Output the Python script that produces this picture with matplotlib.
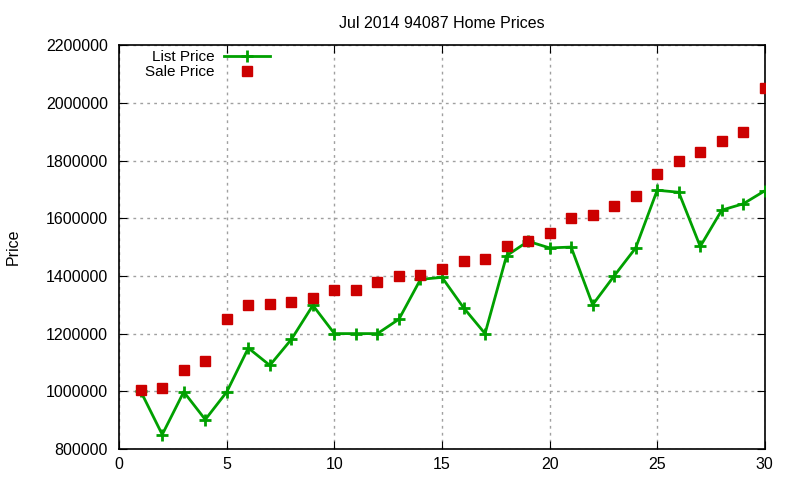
import matplotlib
matplotlib.use("Agg")
import matplotlib.pyplot as plt

days = list(range(1, 31))
list_price = [1000000, 850000, 998000, 902000, 998000, 1150000, 1090000, 1180000, 1298000, 1200000,
              1200000, 1200000, 1250000, 1388000, 1395000, 1290000, 1200000, 1470000, 1520000, 1497000,
              1500000, 1300000, 1400000, 1497000, 1697000, 1690000, 1502000, 1628000, 1650000, 1695000]
sale_price = [1005000, 1012000, 1075000, 1106000, 1252000, 1300000, 1303000, 1310000, 1323000, 1352000,
              1352000, 1379000, 1400000, 1402000, 1424000, 1453000, 1460000, 1502000, 1522000, 1550000,
              1602000, 1612000, 1644000, 1677000, 1752000, 1797000, 1830000, 1866000, 1900000, 2052000]
xticks = [0, 5, 10, 15, 20, 25, 30]
yticks = [800000, 1000000, 1200000, 1400000, 1600000, 1800000, 2000000, 2200000]

plt.rcParams['font.family'] = ['Liberation Sans', 'DejaVu Sans']
fig = plt.figure(figsize=(8, 4.8), dpi=100)
ax = fig.add_axes([0.149, 0.0646, 0.807, 0.8414])

ax.plot(days, list_price, color='#00a000', lw=2, marker='+', ms=8, mew=2, label='List Price', zorder=3)
ax.plot(days, sale_price, ls='none', color='#cc0000', marker='s', ms=6.5, label='Sale Price', zorder=3)

ax.set_xlim(0, 30)
ax.set_ylim(800000, 2200000)
ax.set_xticks(xticks)
ax.set_yticks(yticks)
ax.set_yticklabels([str(v) for v in yticks])
ax.tick_params(direction='in', top=True, right=True, length=6, labelsize=11.5, pad=8)
ax.tick_params(axis='x', pad=6)
ax.grid(True, color='#a0a0a0', ls=(0, (2, 3)), lw=1)
for s in ax.spines.values():
    s.set_linewidth(1.2)

ax.set_title('Jul 2014 94087 Home Prices', fontsize=11.5, pad=12)
ax.set_ylabel('Price', fontsize=11.5, labelpad=18)

ax.legend(loc='upper left', bbox_to_anchor=(0.026, 1.01), frameon=False, markerfirst=False,
          fontsize=11, handlelength=3, labelspacing=0.05, handletextpad=0.6, borderaxespad=0.2)

fig.savefig('out.png', dpi=100)
